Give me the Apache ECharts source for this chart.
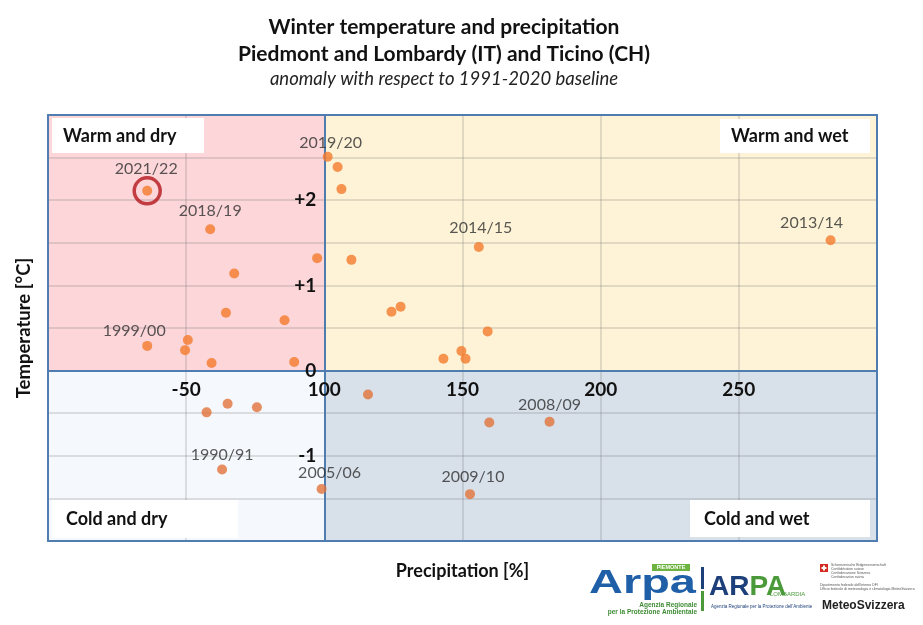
<!DOCTYPE html>
<html><head><meta charset="utf-8">
<script src="https://cdn.jsdelivr.net/npm/echarts@6/dist/echarts.min.js"></script>
<style>html,body{margin:0;padding:0;background:#fff}#c{width:923px;height:625px}</style>
</head><body><div id="c"></div>
<script>
// ---- data ----
const winters = ['2021/22','2018/19','','','','','1999/00','','','','',
  '2019/20','','','','','','2014/15','','','','','2013/14',
  '','','','1990/91','2005/06','','','2008/09','2009/10'];
const precipitation = [35.9,58.7,97.4,67.4,64.4,85.6,35.9,50.6,49.6,59.2,89.1,
  101.2,104.8,106.2,109.8,124.3,127.6,155.9,159.1,149.6,151.1,143.1,283.2,
  57.4,65.0,75.6,63.0,99.0,115.8,159.7,181.5,152.7];
const temperature = [2.11,1.66,1.32,1.14,0.68,0.59,0.29,0.36,0.24,0.09,0.10,
  2.51,2.39,2.13,1.30,0.69,0.75,1.45,0.46,0.23,0.14,0.14,1.53,
  -0.49,-0.39,-0.43,-1.16,-1.39,-0.28,-0.61,-0.60,-1.45];
const highlightedWinter = '2021/22';
const xTickValues = [50,100,150,200,250];
const xTickTexts = ['-50','100','150','200','250'];
const yTickValues = [2,1,0,-1];
const yTickTexts = ['+2','+1','0','-1'];
const xMin = 0, xMax = 300, xMid = 100, xInterval = 50;
const yMin = -2, yMax = 3, yMid = 0, yInterval = 0.5;

// ---- layout / style ----
const FONT = 'Lato, "Open Sans", sans-serif';
const W = 923, H = 625;
const gridLeft = 48, gridRight = 46, gridTop = 115, gridBottom = 84;
const gridWidth = W - gridLeft - gridRight;
const gridHeight = H - gridTop - gridBottom;
// axes cross at (xMid, yMid), like the original spreadsheet chart
const yAxisOffset = -((xMid - xMin) / (xMax - xMin)) * gridWidth;
const xAxisOffset = -((yMid - yMin) / (yMax - yMin)) * gridHeight;
const blue = '#4f7db0';
const gridLine = 'rgba(120,120,120,0.28)';
const labelOffsets = {
  '2021/22': [-1,-22], '2018/19': [0,-18], '2019/20': [3,-14], '2014/15': [2,-19],
  '2013/14': [-19,-17], '1999/00': [-13,-15], '1990/91': [0,-15], '2005/06': [8,-16],
  '2008/09': [0,-17], '2009/10': [3,-17]
};

const points = precipitation.map((p, i) => {
  const name = winters[i];
  const item = { value: [p, temperature[i]], name: name };
  item.label = name ? { show: true, offset: labelOffsets[name] || [0,-18] } : { show: false };
  return item;
});
const hi = winters.indexOf(highlightedWinter);

const lookup = (vals, texts) => v => {
  const k = vals.findIndex(t => Math.abs(t - v) < 1e-9);
  return k >= 0 ? texts[k] : '';
};

const lineAxisBase = (extra) => Object.assign({
  type: 'value', z: 3, axisTick: { show: false }, axisLabel: { show: false },
  splitLine: { show: false },
  axisLine: { show: true, onZero: false, lineStyle: { color: blue, width: 2 } }
}, extra);

const chart = echarts.init(document.getElementById('c'));
chart.setOption({
  animation: false,
  backgroundColor: '#ffffff',
  grid: { left: gridLeft, right: gridRight, top: gridTop, bottom: gridBottom },
  xAxis: [
    { type: 'value', min: xMin, max: xMax, interval: xInterval, position: 'bottom', offset: xAxisOffset, z: 3,
      axisLine: { show: true, onZero: false, lineStyle: { color: blue, width: 2 } },
      axisTick: { show: false },
      axisLabel: { margin: 10, fontFamily: FONT, fontWeight: 'bold', fontSize: 19, color: '#111',
        showMinLabel: false, showMaxLabel: false, formatter: lookup(xTickValues, xTickTexts) },
      splitLine: { show: true, lineStyle: { color: gridLine, width: 1.5 } } },
    lineAxisBase({ min: xMin, max: xMax, interval: xInterval, position: 'top' }),
    lineAxisBase({ min: xMin, max: xMax, interval: xInterval, position: 'bottom',
      name: 'Precipitation [%]', nameLocation: 'middle', nameGap: 21,
      nameTextStyle: { fontFamily: FONT, fontWeight: 'bold', fontSize: 18, color: '#111' } })
  ],
  yAxis: [
    { type: 'value', min: yMin, max: yMax, interval: yInterval, position: 'left', offset: yAxisOffset, z: 3,
      axisLine: { show: true, onZero: false, lineStyle: { color: blue, width: 2 } },
      axisTick: { show: false },
      axisLabel: { margin: 8, fontFamily: FONT, fontWeight: 'bold', fontSize: 19, color: '#111',
        formatter: lookup(yTickValues, yTickTexts) },
      splitLine: { show: true, lineStyle: { color: gridLine, width: 1.5 } } },
    lineAxisBase({ min: yMin, max: yMax, interval: yInterval, position: 'left',
      name: 'Temperature [°C]', nameLocation: 'middle', nameGap: 14,
      nameTextStyle: { fontFamily: FONT, fontWeight: 'bold', fontSize: 18.5, color: '#111' } }),
    lineAxisBase({ min: yMin, max: yMax, interval: yInterval, position: 'right' })
  ],
  series: [
    { type: 'scatter', name: 'quadrants', data: [], silent: true,
      markArea: { silent: true, data: [
        [{ xAxis: xMin, yAxis: yMid, itemStyle: { color: '#fcd6d9' } }, { xAxis: xMid, yAxis: yMax }],
        [{ xAxis: xMid, yAxis: yMid, itemStyle: { color: '#fef3d6' } }, { xAxis: xMax, yAxis: yMax }],
        [{ xAxis: xMin, yAxis: yMin, itemStyle: { color: '#f5f8fc' } }, { xAxis: xMid, yAxis: yMid }],
        [{ xAxis: xMid, yAxis: yMin, itemStyle: { color: '#d8e0ea' } }, { xAxis: xMax, yAxis: yMid }]
      ] } },
    { type: 'scatter', name: 'winters', data: points, symbolSize: 10, z: 5,
      itemStyle: { color: p => (p.value[1] >= 0 ? '#f47b2c' : '#e2733a') },
      label: { position: 'inside', color: '#2e2e2e', fontFamily: FONT, fontSize: 16,
        formatter: p => p.name } },
    { type: 'scatter', name: 'highlight', z: 6, symbol: 'circle', symbolSize: 26,
      data: [[precipitation[hi], temperature[hi]]],
      itemStyle: { color: 'rgba(0,0,0,0)', borderColor: '#b3151b', borderWidth: 3.5 } }
  ],
  graphic: [
    { type: 'text', x: 444, y: 27, style: { text: 'Winter temperature and precipitation', font: 'bold 21px ' + FONT, fill: '#111', textAlign: 'center', textVerticalAlign: 'middle', align: 'center', verticalAlign: 'middle' } },
    { type: 'text', x: 444, y: 54, style: { text: 'Piedmont and Lombardy (IT) and Ticino (CH)', font: 'bold 21px ' + FONT, fill: '#111', textAlign: 'center', textVerticalAlign: 'middle', align: 'center', verticalAlign: 'middle' } },
    { type: 'text', x: 444, y: 79, style: { text: 'anomaly with respect to 1991-2020 baseline', font: 'italic 18.5px ' + FONT, fill: '#222', textAlign: 'center', textVerticalAlign: 'middle', align: 'center', verticalAlign: 'middle' } },
    // quadrant captions
    { type: 'rect', z: 10, shape: { x: 52, y: 118, width: 152, height: 35 }, style: { fill: '#fff' } },
    { type: 'text', z: 11, x: 63, y: 136, style: { text: 'Warm and dry', font: 'bold 18px ' + FONT, fill: '#111', textVerticalAlign: 'middle', verticalAlign: 'middle' } },
    { type: 'rect', z: 10, shape: { x: 720, y: 119, width: 150, height: 34 }, style: { fill: '#fff' } },
    { type: 'text', z: 11, x: 731, y: 136, style: { text: 'Warm and wet', font: 'bold 18px ' + FONT, fill: '#111', textVerticalAlign: 'middle', verticalAlign: 'middle' } },
    { type: 'rect', z: 10, shape: { x: 52, y: 500, width: 186, height: 38 }, style: { fill: '#fff' } },
    { type: 'text', z: 11, x: 66, y: 519, style: { text: 'Cold and dry', font: 'bold 18px ' + FONT, fill: '#111', textVerticalAlign: 'middle', verticalAlign: 'middle' } },
    { type: 'rect', z: 10, shape: { x: 690, y: 500, width: 180, height: 37 }, style: { fill: '#fff' } },
    { type: 'text', z: 11, x: 704, y: 519, style: { text: 'Cold and wet', font: 'bold 18px ' + FONT, fill: '#111', textVerticalAlign: 'middle', verticalAlign: 'middle' } },
    // logos (approximation)
    { type: 'rect', shape: { x: 652, y: 564, width: 38, height: 7 }, style: { fill: '#6cb33f' } },
    { type: 'text', x: 671, y: 567.5, style: { text: 'PIEMONTE', font: 'bold 5.5px "Liberation Sans"', fill: '#fff', textAlign: 'center', textVerticalAlign: 'middle', align: 'center', verticalAlign: 'middle' } },
    { type: 'text', x: 589, y: 567, scaleX: 1.38, style: { text: 'Arpa', font: 'bold 34px "Liberation Sans"', fill: '#1f5fa8', textVerticalAlign: 'top', verticalAlign: 'top' } },
    { type: 'text', x: 697, y: 605, style: { text: 'Agenzia Regionale', font: 'bold 6.5px "Liberation Sans"', fill: '#3f8c35', textAlign: 'right', align: 'right', textVerticalAlign: 'middle', verticalAlign: 'middle' } },
    { type: 'text', x: 697, y: 612, style: { text: 'per la Protezione Ambientale', font: 'bold 6.5px "Liberation Sans"', fill: '#3f8c35', textAlign: 'right', align: 'right', textVerticalAlign: 'middle', verticalAlign: 'middle' } },
    { type: 'rect', shape: { x: 701, y: 567, width: 3, height: 22 }, style: { fill: '#1d3f7a' } },
    { type: 'rect', shape: { x: 701, y: 591, width: 3, height: 20 }, style: { fill: '#4a9a3a' } },
    { type: 'text', x: 709, y: 573, style: { text: '{a|AR}{b|PA}', font: 'bold 28px "Liberation Sans"', rich: { a: { fill: '#1d3f7a', font: 'bold 28px "Liberation Sans"' }, b: { fill: '#4a9a3a', font: 'bold 28px "Liberation Sans"' } }, textVerticalAlign: 'top', verticalAlign: 'top' } },
    { type: 'text', x: 770, y: 594, style: { text: 'LOMBARDIA', font: '6px "Liberation Sans"', fill: '#4a9a3a', textVerticalAlign: 'middle', verticalAlign: 'middle' } },
    { type: 'text', x: 711, y: 607, style: { text: "Agenzia Regionale per la Protezione dell'Ambiente", font: '4.5px "Liberation Sans"', fill: '#1d3f7a', textVerticalAlign: 'middle', verticalAlign: 'middle' } },
    { type: 'rect', shape: { x: 820, y: 564, width: 8, height: 8 }, style: { fill: '#d52b1e' } },
    { type: 'rect', shape: { x: 823, y: 565.5, width: 2, height: 5 }, style: { fill: '#fff' } },
    { type: 'rect', shape: { x: 821.5, y: 567, width: 5, height: 2 }, style: { fill: '#fff' } },
    { type: 'text', x: 831, y: 563, style: { text: 'Schweizerische Eidgenossenschaft\nConfédération suisse\nConfederazione Svizzera\nConfederaziun svizra', font: '3.5px "Liberation Sans"', lineHeight: 4, fill: '#555', textVerticalAlign: 'top', verticalAlign: 'top' } },
    { type: 'text', x: 820, y: 583, style: { text: "Dipartimento federale dell'interno DFI\nUfficio federale di meteorologia e climatologia MeteoSvizzera", font: '3.5px "Liberation Sans"', lineHeight: 4, fill: '#555', textVerticalAlign: 'top', verticalAlign: 'top' } },
    { type: 'text', x: 822, y: 606, style: { text: 'MeteoSvizzera', font: 'bold 12px "Liberation Sans"', fill: '#222', textVerticalAlign: 'middle', verticalAlign: 'middle' } }
  ]
});
</script>
</body></html>
